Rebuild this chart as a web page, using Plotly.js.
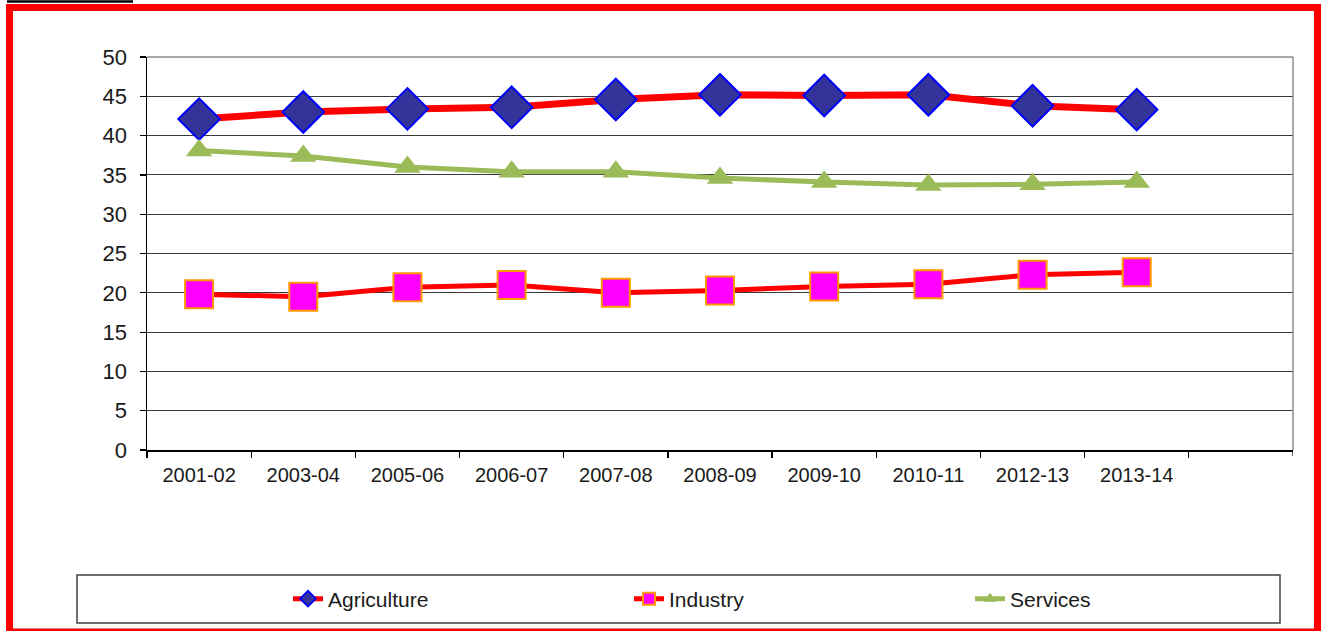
<!DOCTYPE html>
<html>
<head>
<meta charset="utf-8">
<script src="https://cdn.plot.ly/plotly-3.0.1.min.js"></script>
<style>
  html, body { margin: 0; padding: 0; background: #ffffff; }
  #chart { width: 1325px; height: 631px; }
</style>
</head>
<body>
<div id="chart"></div>
<script>
// Sector shares (%) by year
const years = ['2001-02', '2003-04', '2005-06', '2006-07', '2007-08',
               '2008-09', '2009-10', '2010-11', '2012-13', '2013-14'];
const agriculture = [42.1, 43.0, 43.4, 43.6, 44.6, 45.2, 45.1, 45.2, 43.8, 43.3];
const industry    = [19.8, 19.5, 20.7, 21.0, 20.0, 20.3, 20.8, 21.1, 22.3, 22.6];
const services    = [38.1, 37.4, 36.0, 35.4, 35.4, 34.6, 34.1, 33.7, 33.8, 34.1];
const yTicks = [0, 5, 10, 15, 20, 25, 30, 35, 40, 45, 50];

const W = 1325, H = 631;
const M = { l: 147, r: 32, t: 57, b: 181, autoexpand: false };
const plotW = W - M.l - M.r, plotH = H - M.t - M.b;
// pixel -> paper helpers for decorations
const px = v => (v - M.l) / plotW;
const py = v => (H - M.b - v) / plotH;

const FONT = 'Liberation Sans, Arial, sans-serif';

const traces = [
  {
    x: years, y: agriculture, name: 'Agriculture', type: 'scatter', mode: 'lines+markers',
    line: { color: '#ff0000', width: 7 },
    marker: { symbol: 'diamond', size: 32, color: '#333399', line: { color: '#0000ff', width: 2 } }
  },
  {
    x: years, y: industry, name: 'Industry', type: 'scatter', mode: 'lines+markers',
    line: { color: '#ff0000', width: 5 },
    marker: { symbol: 'square', size: 28, color: '#ff00ff', line: { color: '#ff9900', width: 2 } }
  },
  {
    x: years, y: services, name: 'Services', type: 'scatter', mode: 'lines+markers',
    line: { color: '#9bbb59', width: 5 },
    marker: { symbol: 'triangle-up', size: 23, color: '#9bbb59', line: { width: 0 } }
  }
];

const shapes = [
  // outer red frame
  { type: 'rect', xref: 'paper', yref: 'paper',
    x0: px(9.5), x1: px(1317.5), y0: py(632), y1: py(7.5),
    line: { color: '#ff0000', width: 7 }, fillcolor: 'rgba(0,0,0,0)', layer: 'below' },
  // heading underline at the top edge
  { type: 'line', xref: 'paper', yref: 'paper',
    x0: px(7), x1: px(133), y0: py(1.5), y1: py(1.5),
    line: { color: '#000000', width: 2.5 } },
  // plot area border (top and right)
  { type: 'line', xref: 'paper', yref: 'paper',
    x0: 0, x1: 1, y0: 1, y1: 1, line: { color: '#8c8c8c', width: 1.5 } },
  { type: 'line', xref: 'paper', yref: 'paper',
    x0: 1, x1: 1, y0: 0, y1: 1, line: { color: '#8c8c8c', width: 1.5 } },
  // closing tick on the category axis
  { type: 'line', xref: 'x', yref: 'paper',
    x0: 10.5, x1: 10.5, y0: 0, y1: -6 / plotH, line: { color: '#000000', width: 1.2 } },
  // legend box
  { type: 'rect', xref: 'paper', yref: 'paper',
    x0: px(77), x1: px(1280), y0: py(623), y1: py(575),
    line: { color: '#404040', width: 1.5 }, fillcolor: '#ffffff', layer: 'below' }
];

const layout = {
  width: W, height: H,
  margin: M,
  paper_bgcolor: '#ffffff',
  plot_bgcolor: '#ffffff',
  font: { family: FONT, color: '#1a1a1a', size: 18 },
  showlegend: true,
  legend: {
    orientation: 'h',
    x: px(288), xanchor: 'left',
    y: py(599), yanchor: 'middle',
    entrywidth: 296, entrywidthmode: 'pixels',
    bgcolor: 'rgba(0,0,0,0)',
    font: { family: FONT, size: 21, color: '#1a1a1a' },
    itemsizing: 'constant'
  },
  xaxis: {
    type: 'category',
    range: [-0.5, 10.5],
    showgrid: false,
    zeroline: false,
    showline: true, linecolor: '#000000', linewidth: 1.5,
    ticks: 'outside', tickson: 'boundaries', ticklen: 6, tickcolor: '#000000', tickwidth: 1.2,
    tickfont: { family: FONT, size: 20, color: '#1a1a1a' },
    ticklabelstandoff: 6,
    fixedrange: true
  },
  yaxis: {
    range: [0, 50],
    tickvals: yTicks,
    showgrid: true, gridcolor: '#3a3a3a', gridwidth: 1,
    zeroline: false,
    showline: true, linecolor: '#000000', linewidth: 1.5,
    ticks: 'outside', ticklen: 6, tickcolor: '#000000', tickwidth: 1.2,
    tickfont: { family: FONT, size: 22, color: '#1a1a1a' },
    ticklabelstandoff: 8,
    fixedrange: true
  },
  shapes: shapes
};

Plotly.newPlot('chart', traces, layout, { displayModeBar: false, staticPlot: true });
</script>
</body>
</html>
